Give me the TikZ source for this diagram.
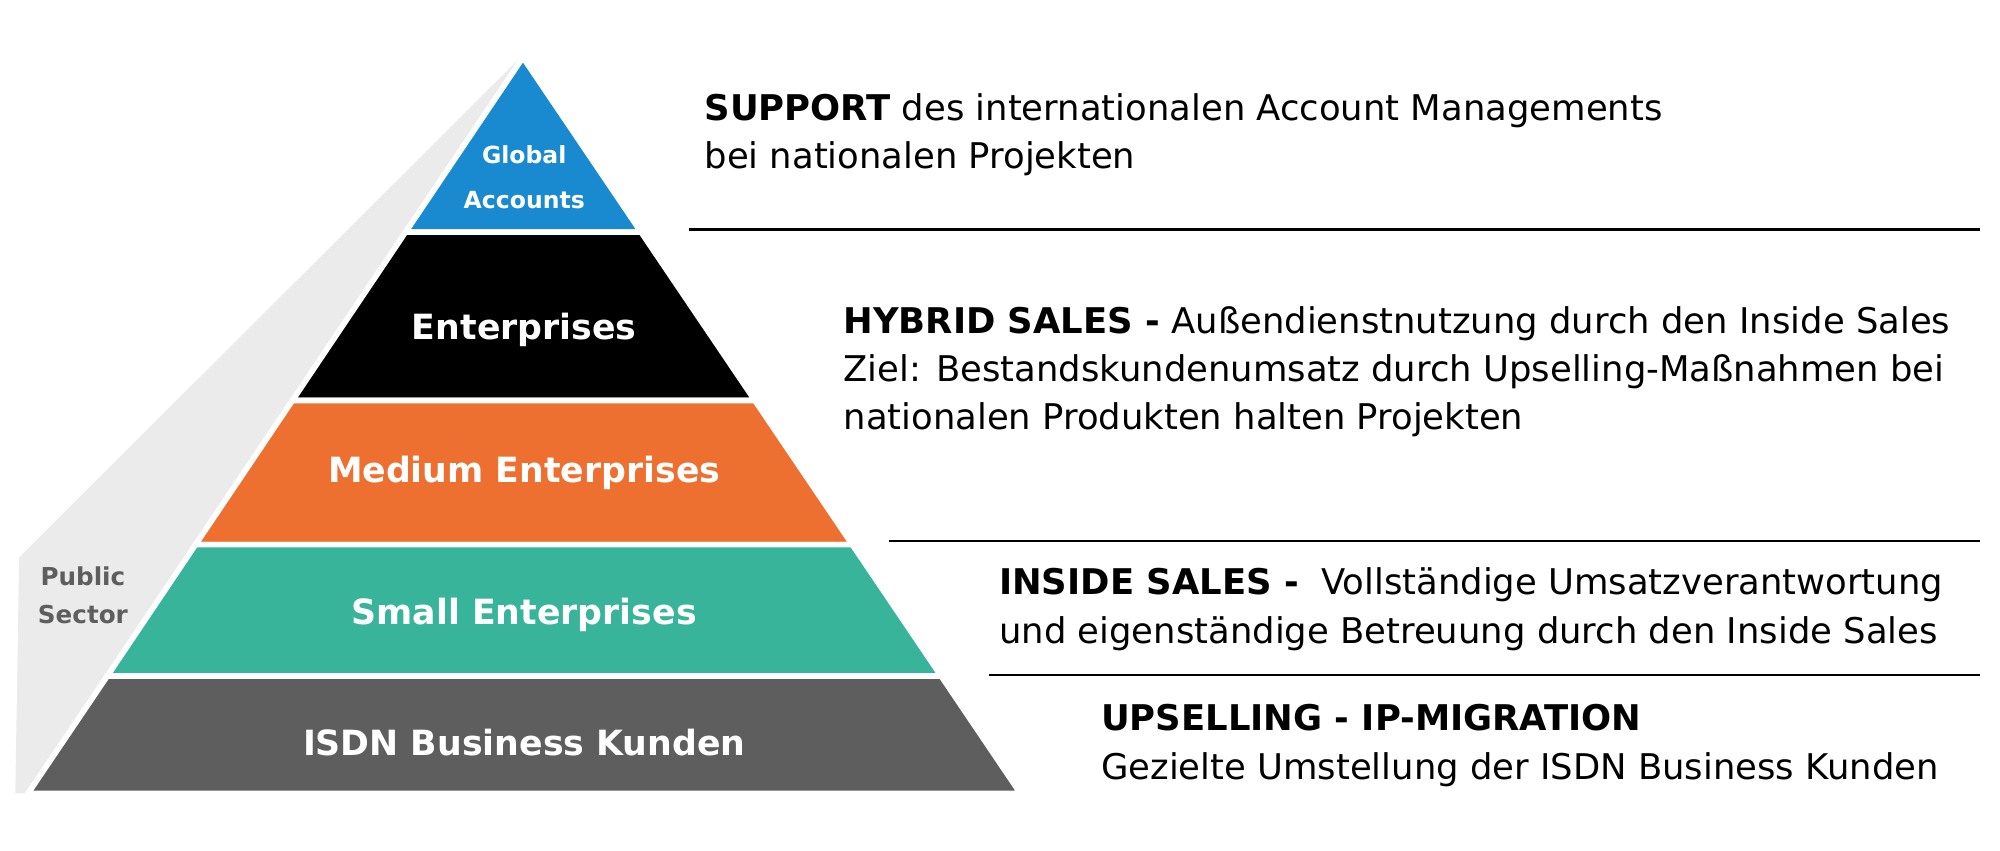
\documentclass[tikz,border=0pt]{standalone}
\usepackage{fontspec}
\setmainfont{DejaVu Sans}
\definecolor{cblue}{HTML}{1A8AD0}
\definecolor{corange}{HTML}{EE7030}
\definecolor{cteal}{HTML}{38B49A}
\definecolor{cgray}{HTML}{5F5E5E}
\definecolor{cshadow}{HTML}{EBEBEB}
\begin{document}
\begin{tikzpicture}[x=0.02cm,y=-0.02cm,
  lay/.style={draw=white,line width=2.5pt},
  lbl/.style={text=white,font=\bfseries\fontsize{15.5}{18}\selectfont},
  desc/.style={anchor=north west,inner sep=0pt,align=left,font=\fontsize{15.8}{21.5}\selectfont},
  rule/.style={line width=1pt}]
\useasboundingbox (0,0) rectangle (1568,667);
\fill[cshadow] (408,45) -- (15,437) -- (12,622) -- (22,622) -- cycle;
\fill[cblue,lay] (410,45) -- ({410-0.672*(182-45)},182) -- ({410+0.676*(182-45)},182) -- cycle;
\fill[black,lay] ({410-0.672*(182-45)},182) -- ({410-0.672*(314-45)},314) -- ({410+0.676*(314-45)},314) -- ({410+0.676*(182-45)},182) -- cycle;
\fill[corange,lay] ({410-0.672*(314-45)},314) -- ({410-0.672*(427-45)},427) -- ({410+0.676*(427-45)},427) -- ({410+0.676*(314-45)},314) -- cycle;
\fill[cteal,lay] ({410-0.672*(427-45)},427) -- ({410-0.672*(530-45)},530) -- ({410+0.676*(530-45)},530) -- ({410+0.676*(427-45)},427) -- cycle;
\fill[cgray,lay] ({410-0.672*(530-45)},530) -- (22,622) -- (800,622) -- ({410+0.676*(530-45)},530) -- cycle;
\node[text=white,font=\bfseries\fontsize{10.5}{20}\selectfont,align=center] (ga) at (411,139) {Global\\Accounts};
\node[lbl] (en) at (411,259) {Enterprises};
\node[lbl] (me) at (411,371) {Medium Enterprises};
\node[lbl] (se) at (411,482) {Small Enterprises};
\node[lbl] (is) at (411,582) {ISDN Business Kunden};
\node[text=cgray,font=\bfseries\fontsize{11}{17}\selectfont,align=center] (ps) at (65,467) {Public\\Sector};
\coordinate (l1a) at (540,180); \coordinate (l1b) at (1552,180);
\coordinate (l2a) at (697,424); \coordinate (l2b) at (1552,424);
\coordinate (l3a) at (775,529); \coordinate (l3b) at (1552,529);
\draw[rule] (l1a) -- (l1b); \draw[rule] (l2a) -- (l2b); \draw[rule] (l3a) -- (l3b);
\node[desc] (t1) at (552,73) {\textbf{SUPPORT} des internationalen Account Managements\\bei nationalen Projekten};
\node[desc] (t2) at (661,240) {\textbf{HYBRID SALES -} Außendienstnutzung durch den Inside Sales\\Ziel: Bestandskundenumsatz durch Upselling-Maßnahmen bei\\nationalen Produkten halten Projekten};
\node[desc] (t3) at (783,445) {\textbf{INSIDE SALES -}\ \ Vollständige Umsatzverantwortung\\und eigenständige Betreuung durch den Inside Sales};
\node[desc] (t4) at (863,552) {\textbf{UPSELLING - IP-MIGRATION}\\Gezielte Umstellung der ISDN Business Kunden};
\end{tikzpicture}
\end{document}
